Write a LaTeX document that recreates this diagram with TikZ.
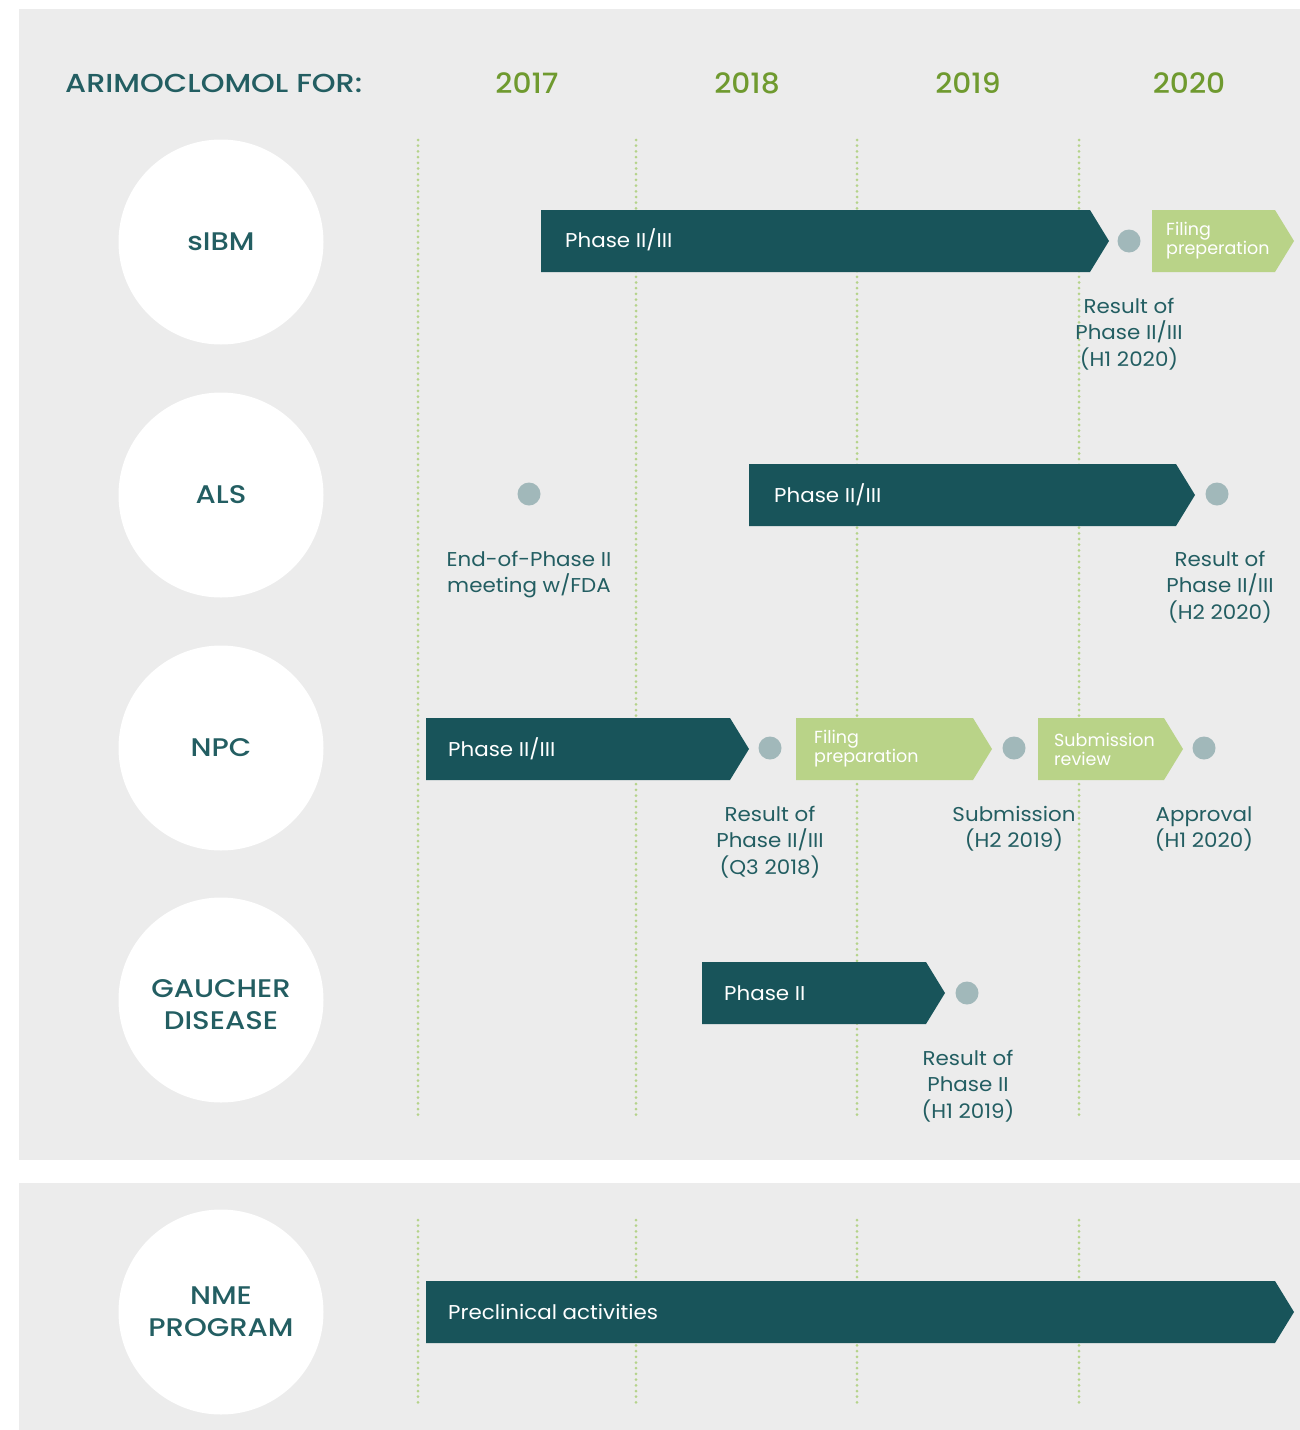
\documentclass[tikz,border=0pt]{standalone}
\usepackage{fontspec}
\setmainfont{Poppins}
\newfontfamily\tlreg[FakeStretch=1.07]{Poppins}
\newfontfamily\tlmed[FakeStretch=1.14]{Poppins Medium}
\newfontfamily\tlttl[FakeStretch=1.165]{Poppins Medium}
\newfontfamily\tlyr[FakeStretch=1.06]{Poppins Medium}
\definecolor{tlteal}{HTML}{18545A}
\definecolor{tllight}{HTML}{B9D388}
\definecolor{tldot}{HTML}{A1B8BA}
\definecolor{tlpanel}{HTML}{ECECEC}
\definecolor{tlyear}{HTML}{6F9A2F}
\definecolor{tltext}{HTML}{235E62}
\definecolor{tlgrid}{HTML}{B5D38A}
\newcommand\tlbar[4]{\fill[#4] (#1,#3-31) -- (#2-19,#3-31) -- (#2,#3) -- (#2-19,#3+31) -- (#1,#3+31) -- cycle;}
\begin{document}
\begin{tikzpicture}[x=1pt,y=-1pt,
  panel/.style={fill=tlpanel},
  gridline/.style={tlgrid, line width=3pt, dash pattern=on 0pt off 5.7pt, line cap=round},
  disease/.style={circle, fill=white, minimum size=205pt, inner sep=0pt, text=tltext, font=\tlmed\fontsize{25.5}{32}\selectfont, align=center},
  diseasetext/.style={inner sep=0pt, text=tltext, font=\tlmed\fontsize{25.5}{32}\selectfont, align=center},
  yearlbl/.style={text=tlyear, font=\tlyr\fontsize{28}{30}\selectfont},
  titlelbl/.style={text=tltext, font=\tlttl\fontsize{26}{30}\selectfont, anchor=west, inner sep=0pt},
  bartext/.style={text=white, font=\tlreg\fontsize{20}{24}\selectfont, anchor=west, inner sep=0pt},
  lighttext/.style={text=white, font=\fontsize{17.5}{19}\selectfont, anchor=west, align=left, inner sep=0pt},
  milestone/.style={circle, fill=tldot, minimum size=23pt, inner sep=0pt},
  lbl/.style={text=tltext, font=\tlreg\fontsize{20}{26.5}\selectfont, align=center, anchor=north, inner sep=0pt}]
\useasboundingbox (0,0) rectangle (1300,1430);
\fill[white] (0,0) rectangle (1300,1430);
% panels
\fill[panel] (19,9) rectangle (1300,1160);
\fill[panel] (19,1183) rectangle (1300,1430);
% grid lines
\foreach \gx in {418,636,857,1079} {
  \draw[gridline] (\gx,140) -- (\gx,1120);
  \draw[gridline] (\gx,1220) -- (\gx,1403);
}
% header
\node[titlelbl] (title) at (65,83) {ARIMOCLOMOL FOR:};
\node[yearlbl] (y2017) at (527,83) {2017};
\node[yearlbl] (y2018) at (747,83) {2018};
\node[yearlbl] (y2019) at (968,83) {2019};
\node[yearlbl] (y2020) at (1189,83) {2020};
% disease circles
\node[disease] (sibm) at (221,242) {\raisebox{-2pt}{sIBM}};
\node[disease] (als) at (221,495) {ALS};
\node[disease] (npc) at (221,748) {\raisebox{-2pt}{NPC}};
\node[disease] (gau) at (221,1000) {};
\node[diseasetext] (gaut) at (221,1005) {GAUCHER\\DISEASE};
\node[disease] (nme) at (221,1312) {NME\\PROGRAM};
% sIBM
\tlbar{541}{1109}{241}{tlteal}
\node[bartext] (sibmp) at (565,240) {Phase II/III};
\node[milestone] (sibmd) at (1129,241) {};
\tlbar{1152}{1294}{241}{tllight}
\node[lighttext] (sibmf) at (1166,241) {Filing\\preperation};
\node[lbl] (sibmr) at (1129,298) {Result of\\Phase II/III\\(H1 2020)};
% ALS
\node[milestone] (alsd1) at (529,494) {};
\node[lbl] (alsm) at (529,551) {End-of-Phase II\\meeting w/FDA};
\tlbar{749}{1195}{495}{tlteal}
\node[bartext] (alsp) at (774,495) {Phase II/III};
\node[milestone] (alsd2) at (1217,494) {};
\node[lbl] (alsr) at (1220,551) {Result of\\Phase II/III\\(H2 2020)};
% NPC
\tlbar{426}{749}{749}{tlteal}
\node[bartext] (npcp) at (448,749) {Phase II/III};
\node[milestone] (npcd1) at (770,748) {};
\tlbar{796}{992}{749}{tllight}
\node[lighttext] (npcf) at (814,749) {Filing\\preparation};
\node[milestone] (npcd2) at (1014,748) {};
\tlbar{1038}{1183}{749}{tllight}
\node[lighttext] (npcs) at (1054,749) {Submission\\review};
\node[milestone] (npcd3) at (1204,748) {};
\node[lbl] (npcr1) at (770,806) {Result of\\Phase II/III\\(Q3 2018)};
\node[lbl] (npcr2) at (1014,806) {Submission\\(H2 2019)};
\node[lbl] (npcr3) at (1204,806) {Approval\\(H1 2020)};
% Gaucher
\tlbar{702}{945}{993}{tlteal}
\node[bartext] (gaup) at (724,993) {Phase II};
\node[milestone] (gaud) at (967,993) {};
\node[lbl] (gaur) at (968,1050) {Result of\\Phase II\\(H1 2019)};
% NME
\tlbar{426}{1294}{1312}{tlteal}
\node[bartext] (nmep) at (448,1312) {Preclinical activities};
\end{tikzpicture}
\end{document}
